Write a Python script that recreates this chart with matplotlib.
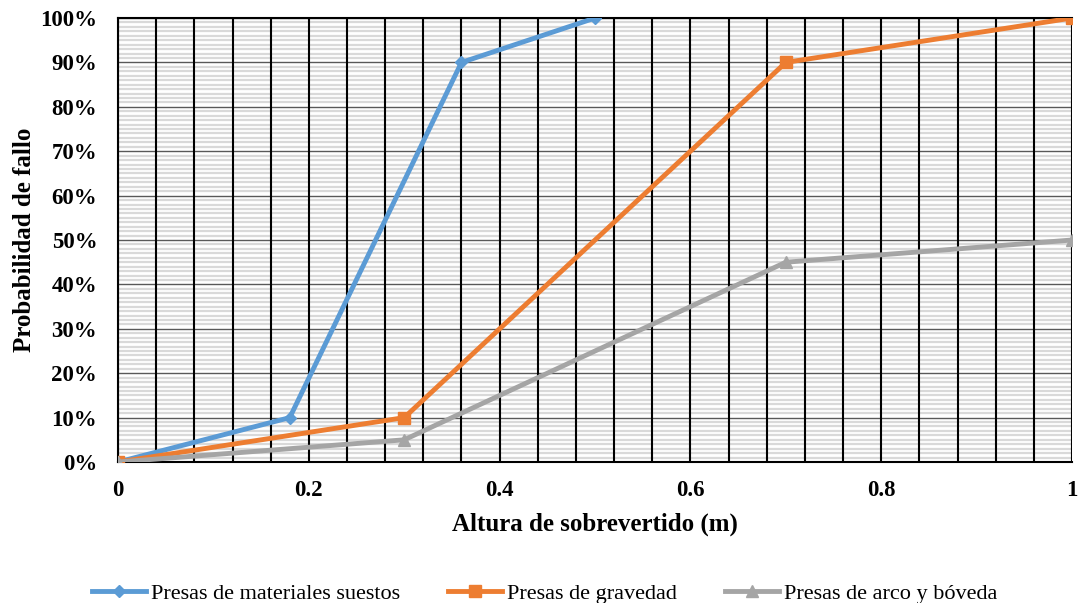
import numpy as np
import matplotlib.pyplot as plt
from matplotlib.ticker import MultipleLocator, PercentFormatter

# Data
x_materiales = [0, 0.18, 0.36, 0.5]
y_materiales = [0, 0.10, 0.90, 1.00]

x_gravedad = [0, 0.3, 0.7, 1.0]
y_gravedad = [0, 0.10, 0.90, 1.00]

x_arco = [0, 0.3, 0.7, 1.0]
y_arco = [0, 0.05, 0.45, 0.50]

plt.rcParams['font.family'] = ['Liberation Serif', 'DejaVu Serif']

fig = plt.figure(figsize=(10.79, 6.03), dpi=100)
ax = fig.add_axes([0.1094, 0.2338, 0.8841, 0.7363])

# Grid lines: light minor horizontals, darker majors, black verticals on top
ax.xaxis.set_major_locator(MultipleLocator(0.2))
ax.xaxis.set_minor_locator(MultipleLocator(0.04))
ax.yaxis.set_major_locator(MultipleLocator(0.1))
ax.yaxis.set_minor_locator(MultipleLocator(0.01))
ax.grid(which='minor', axis='y', color='#d9d9d9', linewidth=1.6)
ax.grid(which='major', axis='y', color='#595959', linewidth=1.0)
ax.grid(which='both', axis='x', color='black', linewidth=1.5)
ax.set_axisbelow(True)
ax.yaxis.set_zorder(0.5)
ax.xaxis.set_zorder(0.6)

ax.plot(x_materiales, y_materiales, color='#5B9BD5', linewidth=3.5, marker='D', markersize=6,
        label='Presas de materiales suestos', zorder=3)
ax.plot(x_gravedad, y_gravedad, color='#ED7D31', linewidth=3.5, marker='s', markersize=8,
        label='Presas de gravedad', zorder=3)
ax.plot(x_arco, y_arco, color='#A5A5A5', linewidth=3.5, marker='^', markersize=8,
        label='Presas de arco y bóveda', zorder=3)

ax.set_xlim(0, 1)
ax.set_ylim(0, 1)
ax.yaxis.set_major_formatter(PercentFormatter(1.0, decimals=0))
ax.xaxis.set_major_formatter(lambda v, p: f'{v:.1f}' if 0.01 < v < 0.99 else f'{v:.0f}')

ax.tick_params(which='both', length=0)
ax.tick_params(axis='x', pad=13)
ax.tick_params(axis='y', pad=15)
for lbl in ax.get_xticklabels() + ax.get_yticklabels():
    lbl.set_fontweight('bold')
    lbl.set_fontsize(16.5)

for side in ['top', 'left', 'bottom']:
    ax.spines[side].set_color('black')
    ax.spines[side].set_linewidth(1.5)
ax.spines['right'].set_visible(False)

ax.set_xlabel('Altura de sobrevertido (m)', fontsize=18, fontweight='bold', labelpad=8)
ax.set_ylabel('Probabilidad de fallo', fontsize=18, fontweight='bold', labelpad=3)

fig.legend(loc='lower center', bbox_to_anchor=(0.505, -0.035), ncol=3, frameon=False,
           fontsize=16, handlelength=2.43, columnspacing=2.16, handletextpad=0.22)

fig.savefig('out.png', dpi=100)
